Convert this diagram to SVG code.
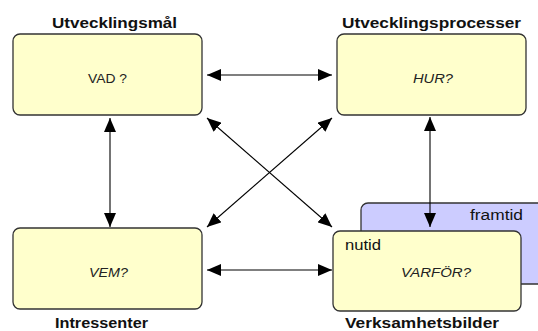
<svg xmlns="http://www.w3.org/2000/svg" width="538" height="331" viewBox="0 0 538 331">
  <defs>
    <marker id="head" viewBox="0 0 14 12" refX="14" refY="6" markerWidth="14" markerHeight="12" markerUnits="userSpaceOnUse" orient="auto-start-reverse">
      <path d="M0,0 L14,6 L0,12 Z" fill="#000"/>
    </marker>
  </defs>
  <style>
    .box { fill: #ffffcc; stroke: #333; stroke-width: 1.3; }
    .back { fill: #ccccff; stroke: #333; stroke-width: 1.3; }
    .title { font-family: "Liberation Sans", Arial, sans-serif; font-size: 15px; font-weight: bold; fill: #111; }
    .q { font-family: "Liberation Sans", Arial, sans-serif; font-size: 13px; fill: #222; }
    .qi { font-family: "Liberation Sans", Arial, sans-serif; font-size: 13px; font-style: italic; fill: #222; }
    .tag { font-family: "Liberation Sans", Arial, sans-serif; font-size: 14px; fill: #111; }
    .link { stroke: #000; stroke-width: 1.1; fill: none; marker-start: url(#head); marker-end: url(#head); }
  </style>

  <!-- goals -->
  <g id="utvecklingsmal">
    <rect class="box" x="13" y="34" width="189" height="81" rx="7"/>
    <text class="title" x="52" y="28" textLength="125" lengthAdjust="spacingAndGlyphs">Utvecklingsmål</text>
    <text class="q" x="88" y="83" textLength="39" lengthAdjust="spacingAndGlyphs">VAD ?</text>
  </g>

  <!-- processes -->
  <g id="utvecklingsprocesser">
    <rect class="box" x="337" y="34" width="189" height="81" rx="7"/>
    <text class="title" x="342" y="28" textLength="179" lengthAdjust="spacingAndGlyphs">Utvecklingsprocesser</text>
    <text class="qi" x="413" y="83" textLength="40" lengthAdjust="spacingAndGlyphs">HUR?</text>
  </g>

  <!-- stakeholders -->
  <g id="intressenter">
    <rect class="box" x="13" y="228" width="189" height="81" rx="7"/>
    <text class="title" x="55" y="328" textLength="93" lengthAdjust="spacingAndGlyphs">Intressenter</text>
    <text class="qi" x="89" y="277" textLength="39" lengthAdjust="spacingAndGlyphs">VEM?</text>
  </g>

  <!-- business pictures: future behind, present in front -->
  <g id="verksamhetsbilder">
    <rect class="back" x="361" y="203" width="200" height="81" rx="7"/>
    <text class="tag" x="470" y="220" textLength="53" lengthAdjust="spacingAndGlyphs">framtid</text>
    <rect class="box" x="333" y="231" width="188" height="80" rx="7"/>
    <text class="tag" x="345" y="250" textLength="36" lengthAdjust="spacingAndGlyphs">nutid</text>
    <text class="qi" x="401" y="277" textLength="70" lengthAdjust="spacingAndGlyphs">VARFÖR?</text>
    <text class="title" x="345" y="328" textLength="154" lengthAdjust="spacingAndGlyphs">Verksamhetsbilder</text>
  </g>

  <!-- connectors -->
  <g id="connectors">
    <line class="link" x1="207" y1="75" x2="332" y2="75"/>
    <line class="link" x1="207" y1="270" x2="332" y2="270"/>
    <line class="link" x1="110" y1="118" x2="110" y2="227"/>
    <line class="link" x1="430" y1="117" x2="430" y2="227"/>
    <line class="link" x1="207" y1="118" x2="332" y2="227"/>
    <line class="link" x1="332" y1="118" x2="207" y2="227"/>
  </g>
</svg>
